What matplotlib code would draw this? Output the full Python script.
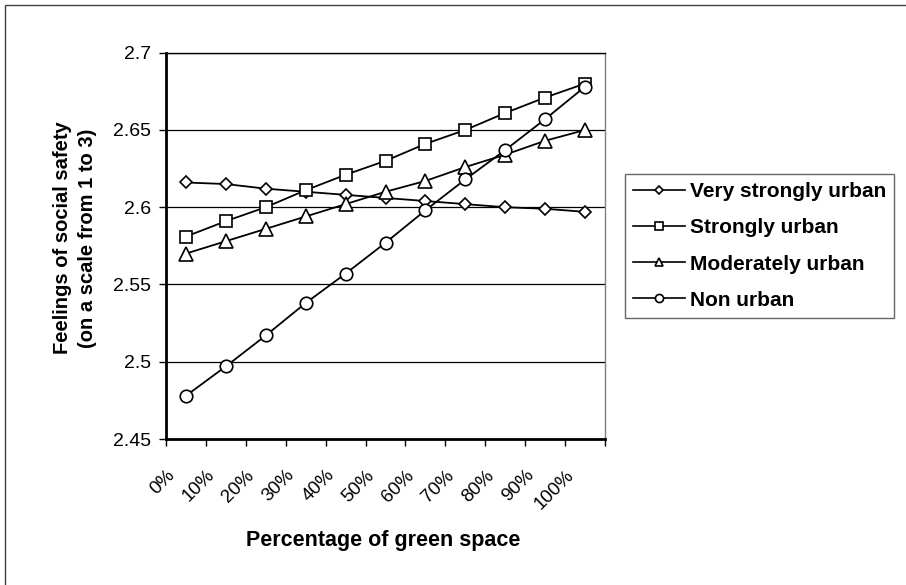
import matplotlib
matplotlib.use("Agg")
import matplotlib.pyplot as plt
from matplotlib.patches import Rectangle
from matplotlib.transforms import ScaledTranslation

plt.rcParams['font.family'] = ['Liberation Sans', 'DejaVu Sans']

# Categories and series values
categories = ["0%", "10%", "20%", "30%", "40%", "50%", "60%", "70%", "80%", "90%", "100%"]
very_strongly_urban = [2.616, 2.615, 2.612, 2.610, 2.608, 2.606, 2.604, 2.602, 2.600, 2.599, 2.597]
strongly_urban = [2.581, 2.591, 2.600, 2.611, 2.621, 2.630, 2.641, 2.650, 2.661, 2.671, 2.680]
moderately_urban = [2.570, 2.578, 2.586, 2.594, 2.602, 2.610, 2.617, 2.626, 2.634, 2.643, 2.650]
non_urban = [2.478, 2.497, 2.517, 2.538, 2.557, 2.577, 2.598, 2.618, 2.637, 2.657, 2.678]
series_names = ["Very strongly urban", "Strongly urban", "Moderately urban", "Non urban"]
y_ticks = [2.45, 2.5, 2.55, 2.6, 2.65, 2.7]
y_tick_labels = ["2.45", "2.5", "2.55", "2.6", "2.65", "2.7"]

fig = plt.figure(figsize=(9.06, 5.85), dpi=100)
ax = fig.add_axes([166 / 906, 1 - 439 / 585, 439 / 906, 386.3 / 585])

x = list(range(len(categories)))
styles = [("D", 6.6), ("s", 9.3), ("^", 9.5), ("o", 9.0)]
all_series = [very_strongly_urban, strongly_urban, moderately_urban, non_urban]
for vals, name, (mk, ms) in zip(all_series, series_names, styles):
    ax.plot(x, vals, color="black", lw=1.3, marker=mk, markersize=ms,
            markerfacecolor="white", markeredgecolor="black", markeredgewidth=1.2,
            label=name, zorder=3)

# axes, grid and ticks
ax.set_ylim(2.45, 2.7)
ax.set_xlim(-0.5, len(categories) - 0.5)
ax.set_yticks(y_ticks)
ax.set_yticklabels(y_tick_labels, fontsize=14)
ax.grid(axis="y", color="black", lw=0.9)
ax.set_axisbelow(True)

ax.set_xticks(x)
ax.set_xticklabels(categories, fontsize=13.5, rotation=45, ha="right", va="top",
                   rotation_mode="anchor")
ax.set_xticks([i - 0.5 for i in range(len(categories) + 1)], minor=True)
ax.tick_params(axis="x", which="major", length=0, pad=20)
ax.tick_params(axis="x", which="minor", length=5, width=1, direction="out")
ax.tick_params(axis="y", length=5, width=1, direction="out", pad=6)
for lbl in ax.get_xticklabels():
    lbl.set_transform(lbl.get_transform() + ScaledTranslation(-0.2, 0, fig.dpi_scale_trans))

for s in ["left", "bottom"]:
    ax.spines[s].set_linewidth(2)
    ax.spines[s].set_color("black")
ax.spines["top"].set_linewidth(1)
ax.spines["top"].set_color("black")
ax.spines["right"].set_linewidth(1)
ax.spines["right"].set_color("#808080")

ax.set_xlabel("Percentage of green space", fontsize=15.5, fontweight="bold")
ax.xaxis.set_label_coords(0.494, -0.235)
ax.set_ylabel("Feelings of social safety\n(on a scale from 1 to 3)", fontsize=14.5,
              fontweight="bold", linespacing=1.4)
ax.yaxis.set_label_coords(-0.157, 0.52)

leg = ax.legend(loc="upper left", bbox_to_anchor=(625 / 906, 1 - 174 / 585),
                bbox_transform=fig.transFigure, frameon=True, fancybox=False,
                prop={"weight": "bold", "size": 15}, handlelength=2.5,
                handletextpad=0.2, borderpad=0.4, labelspacing=0.82,
                borderaxespad=0)
leg.get_frame().set_edgecolor("#404040")
leg.get_frame().set_linewidth(1)
for h, (mk, ms) in zip(leg.legend_handles, styles):
    h.set_markersize(ms * 0.65)
    h.set_linewidth(1.2)

# outer chart border (only top and left visible)
fig.add_artist(Rectangle((5 / 906, -0.1), 1.2, 0.1 + 1 - 5 / 585, transform=fig.transFigure,
                         fill=False, edgecolor="#404040", lw=1))

plt.savefig("out.png", dpi=100)
